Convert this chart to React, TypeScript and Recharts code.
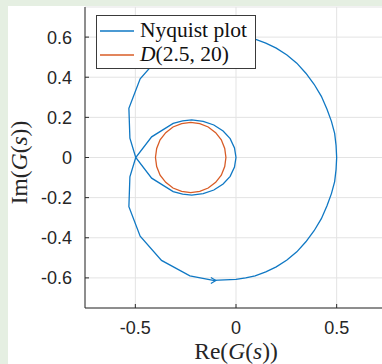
import React from 'react';
import { ScatterChart, Scatter, XAxis, YAxis, CartesianGrid, Legend } from 'recharts';

// Nyquist curve, closed loop starting at Re = 0.5
const nyquistRe = [
  0.5, 0.497, 0.49, 0.474, 0.452, 0.424, 0.388, 0.347, 0.302, 0.253, 0.2, 0.148, 0.095, 0.048, 0.0,
  -0.113, -0.229, -0.37, -0.476, -0.532, -0.527, -0.498,
  -0.419, -0.312, -0.265, -0.22, -0.163, -0.11, -0.064, -0.029, -0.0075, 0.0,
  -0.0075, -0.029, -0.064, -0.11, -0.163, -0.22, -0.265, -0.312, -0.419, -0.498,
  -0.527, -0.532, -0.476, -0.37, -0.229, -0.113,
  0.0, 0.048, 0.095, 0.148, 0.2, 0.253, 0.302, 0.347, 0.388, 0.424, 0.452, 0.474, 0.49, 0.497, 0.5,
];
const nyquistIm = [
  0.0, -0.06, -0.12, -0.18, -0.24, -0.305, -0.365, -0.42, -0.47, -0.511, -0.545, -0.57, -0.59, -0.6, -0.607,
  -0.612, -0.59, -0.513, -0.392, -0.245, -0.096, 0.0,
  0.103, 0.17, 0.183, 0.187, 0.18, 0.162, 0.132, 0.094, 0.048, 0.0,
  -0.048, -0.094, -0.132, -0.162, -0.18, -0.187, -0.183, -0.17, -0.103, 0.0,
  0.096, 0.245, 0.392, 0.513, 0.59, 0.612,
  0.607, 0.6, 0.59, 0.57, 0.545, 0.511, 0.47, 0.42, 0.365, 0.305, 0.24, 0.18, 0.12, 0.06, 0.0,
];

// disc D(2.5, 20)
const discRe = [
  -0.05, -0.056, -0.073, -0.101, -0.138, -0.18, -0.225, -0.27, -0.313, -0.349, -0.377, -0.394,
  -0.4, -0.394, -0.377, -0.349, -0.313, -0.27, -0.225, -0.18, -0.138, -0.101, -0.073, -0.056, -0.05,
];
const discIm = [
  0.0, 0.045, 0.088, 0.124, 0.152, 0.169, 0.175, 0.169, 0.152, 0.124, 0.088, 0.045,
  0.0, -0.045, -0.088, -0.124, -0.152, -0.169, -0.175, -0.169, -0.152, -0.124, -0.088, -0.045, 0.0,
];

// direction arrow on the lower branch
const arrowRe = [-0.1];
const arrowIm = [-0.613];

const xTicks = [-0.5, 0, 0.5];
const yTicks = [-0.6, -0.4, -0.2, 0, 0.2, 0.4, 0.6];

const BLUE = '#0f78c4';
const ORANGE = '#d95c26';
const AXIS = '#2b2b2b';
const SANS = '"Liberation Sans", Arial, Helvetica, sans-serif';
const SERIF = '"Liberation Serif", "Times New Roman", serif';

const toPoints = (xs: number[], ys: number[]) => xs.map((x, i) => ({ x, y: ys[i] }));
const nyquistData = toPoints(nyquistRe, nyquistIm);
const discData = toPoints(discRe, discIm);
const arrowData = toPoints(arrowRe, arrowIm);

const noShape = () => <g />;

const ArrowHead = (props: any) => {
  const { cx, cy } = props;
  return (
    <path
      d={`M${cx - 5},${cy - 3} L${cx},${cy} L${cx - 5},${cy + 3}`}
      fill="none"
      stroke={BLUE}
      strokeWidth={1.2}
    />
  );
};

const BottomTick = (props: any) => {
  const { x, y, payload } = props;
  return (
    <g>
      <line x1={x} x2={x} y1={y} y2={y - 4} stroke={AXIS} />
      <text x={x} y={y + 26} textAnchor="middle" fontFamily={SANS} fontSize={18} fill="#262626">
        {String(payload.value)}
      </text>
    </g>
  );
};

const TopTick = (props: any) => {
  const { x, y } = props;
  return <line x1={x} x2={x} y1={y} y2={y + 4} stroke={AXIS} />;
};

const LeftTick = (props: any) => {
  const { x, y, payload } = props;
  return (
    <g>
      <line x1={x} x2={x + 4} y1={y} y2={y} stroke={AXIS} />
      <text x={x - 13} y={y + 6.5} textAnchor="end" fontFamily={SANS} fontSize={18} fill="#262626">
        {String(payload.value)}
      </text>
    </g>
  );
};

const XLabel = (props: any) => {
  const { viewBox } = props;
  const cx = viewBox.x + viewBox.width / 2;
  const y = viewBox.y + 51;
  return (
    <text x={cx} y={y} textAnchor="middle" fontFamily={SERIF} fontSize={23.5} fill="#262626">
      Re(<tspan fontStyle="italic">G</tspan>(<tspan fontStyle="italic">s</tspan>))
    </text>
  );
};

const YLabel = (props: any) => {
  const { viewBox } = props;
  const x = viewBox.x + 19;
  const cy = viewBox.y + viewBox.height / 2 + 5;
  return (
    <text
      x={x}
      y={cy}
      transform={`rotate(-90 ${x} ${cy})`}
      textAnchor="middle"
      fontFamily={SERIF}
      fontSize={23.5}
      fill="#262626"
    >
      Im(<tspan fontStyle="italic">G</tspan>(<tspan fontStyle="italic">s</tspan>))
    </text>
  );
};

const LegendBox = () => (
  <svg width={160} height={54} style={{ display: 'block' }}>
    <rect x={0.5} y={0.5} width={159} height={53} fill="#fff" stroke="#3a3a3a" />
    <line x1={4} x2={38} y1={16} y2={16} stroke={BLUE} strokeWidth={1.3} />
    <text x={44} y={22} fontFamily={SERIF} fontSize={21.5} fill="#111">
      Nyquist plot
    </text>
    <line x1={4} x2={38} y1={40} y2={40} stroke={ORANGE} strokeWidth={1.3} />
    <text x={44} y={46} fontFamily={SERIF} fontSize={21.5} fill="#111">
      <tspan fontStyle="italic">D</tspan>(2.5, 20)
    </text>
  </svg>
);

export default function App() {
  return (
    <div
      style={{
        position: 'fixed',
        left: 0,
        top: 0,
        width: 382,
        height: 364,
        background: '#e5efe2',
        overflow: 'hidden',
      }}
    >
      <div
        style={{
          position: 'absolute',
          left: 8,
          top: 6,
          width: 374,
          height: 358,
          background: '#fff',
          overflow: 'hidden',
        }}
      >
        <ScatterChart width={380} height={358} margin={{ top: 1, right: 1, bottom: 0, left: 0 }}>
          <CartesianGrid stroke="#e3e3e3" />
          <XAxis
            xAxisId="top"
            orientation="top"
            type="number"
            dataKey="x"
            domain={[-0.75, 0.75]}
            ticks={xTicks}
            height={0}
            tickSize={0}
            tickMargin={0}
            tickLine={false}
            tick={TopTick}
            axisLine={{ stroke: AXIS }}
          />
          <XAxis
            type="number"
            dataKey="x"
            domain={[-0.75, 0.75]}
            ticks={xTicks}
            height={56}
            tickSize={0}
            tickMargin={0}
            tickLine={false}
            tick={BottomTick}
            axisLine={{ stroke: AXIS }}
            label={XLabel}
          />
          <YAxis
            type="number"
            dataKey="y"
            domain={[-0.75, 0.75]}
            ticks={yTicks}
            width={77}
            tickSize={0}
            tickMargin={0}
            tickLine={false}
            tick={LeftTick}
            axisLine={{ stroke: AXIS }}
            label={YLabel}
          />
          <Legend
            layout="vertical"
            align="center"
            verticalAlign="middle"
            content={LegendBox}
            wrapperStyle={{ left: 88, top: 9, width: 160, height: 54 }}
          />
          <Scatter
            name="Nyquist plot"
            data={nyquistData}
            line={{ stroke: BLUE, strokeWidth: 1.3 }}
            lineType="joint"
            shape={noShape}
            isAnimationActive={false}
          />
          <Scatter
            name="D(2.5, 20)"
            data={discData}
            line={{ stroke: ORANGE, strokeWidth: 1.3 }}
            lineType="joint"
            shape={noShape}
            isAnimationActive={false}
          />
          <Scatter
            name="arrow"
            data={arrowData}
            shape={ArrowHead}
            legendType="none"
            isAnimationActive={false}
          />
        </ScatterChart>
      </div>
    </div>
  );
}
